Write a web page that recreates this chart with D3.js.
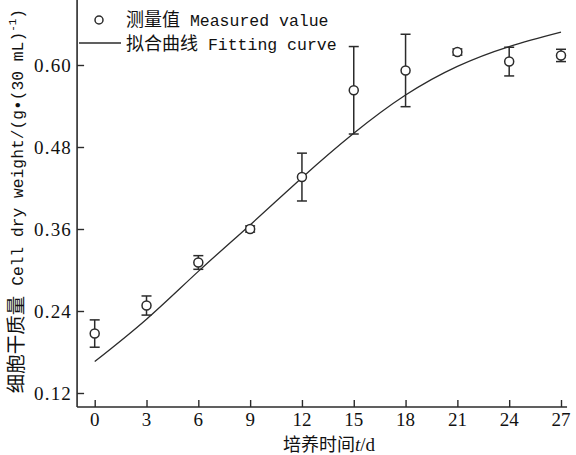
<!DOCTYPE html>
<html>
<head>
<meta charset="utf-8">
<script src="https://cdn.jsdelivr.net/npm/d3@7"></script>
<style>
  html, body { margin: 0; padding: 0; background: #fff; }
  svg { display: block; }
  .cjk { font-family: "Noto Sans CJK SC", sans-serif; }
  .lat { font-family: "Liberation Mono", monospace; }
  .num { font-family: "Liberation Serif", serif; }
</style>
</head>
<body>
<svg id="chart" width="576" height="455"></svg>
<script>
// Culture time (d)
const days = [0, 3, 6, 9, 12, 15, 18, 21, 24, 27];
// Measured cell dry weight, g per 30 mL, and its error
const measured = [0.207, 0.248, 0.311, 0.360, 0.436, 0.563, 0.592, 0.619, 0.605, 0.614];
const errors   = [0.020, 0.014, 0.010, 0.0045, 0.035, 0.064, 0.053, 0.0045, 0.021, 0.009];
// Fitted growth curve at the same days
const fitted   = [0.166, 0.228, 0.298, 0.366, 0.435, 0.500, 0.556, 0.598, 0.627, 0.648];
const xTicks = [0, 3, 6, 9, 12, 15, 18, 21, 24, 27];
const yTicks = [0.12, 0.24, 0.36, 0.48, 0.60];

const ink = "#2b2b2b";
const svg = d3.select("#chart");

const x = d3.scaleLinear().domain([0, 27]).range([94.7, 561]);
const y = d3.scaleLinear().domain([0.12, 0.60]).range([393, 65]);

const axisLeftX = x(-1.02);
const axisBottomY = y(0.0995);

// Axis lines
svg.append("line")
  .attr("x1", axisLeftX).attr("x2", axisLeftX)
  .attr("y1", axisBottomY).attr("y2", 0)
  .attr("stroke", ink).attr("stroke-width", 1.6);
svg.append("line")
  .attr("x1", axisLeftX).attr("x2", x(27.35))
  .attr("y1", axisBottomY).attr("y2", axisBottomY)
  .attr("stroke", ink).attr("stroke-width", 1.6);

// Y axis: inward ticks, labels to the left
const yAxis = d3.axisRight(y).tickValues(yTicks).tickSize(7).tickFormat("");
const gy = svg.append("g").attr("transform", `translate(${axisLeftX},0)`).call(yAxis);
gy.select(".domain").remove();
gy.selectAll(".tick line").attr("stroke", ink).attr("stroke-width", 1.4);
svg.append("g").selectAll("text").data(yTicks).join("text")
  .attr("class", "num")
  .attr("x", axisLeftX - 5)
  .attr("y", d => y(d))
  .attr("dy", "0.35em")
  .attr("text-anchor", "end")
  .attr("font-size", 19)
  .attr("letter-spacing", 1.2)
  .attr("fill", "#111")
  .text(d3.format(".2f"));

// X axis: inward ticks, labels below
const xAxis = d3.axisTop(x).tickValues(xTicks).tickSize(7).tickFormat("");
const gx = svg.append("g").attr("transform", `translate(0,${axisBottomY})`).call(xAxis);
gx.select(".domain").remove();
gx.selectAll(".tick line").attr("stroke", ink).attr("stroke-width", 1.4);
svg.append("g").selectAll("text").data(xTicks).join("text")
  .attr("class", "num")
  .attr("x", d => x(d))
  .attr("y", axisBottomY + 12.5)
  .attr("dy", "0.35em")
  .attr("text-anchor", "middle")
  .attr("font-size", 19)
  .attr("fill", "#111")
  .text(d => d);

// X axis title
const xt = svg.append("text")
  .attr("x", 329).attr("y", 451)
  .attr("text-anchor", "middle").attr("fill", "#111");
xt.append("tspan").attr("class", "cjk").attr("font-size", 18).text("培养时间");
xt.append("tspan").attr("class", "num").attr("font-size", 19).attr("font-style", "italic").text("t");
xt.append("tspan").attr("class", "num").attr("font-size", 19).text("/d");

// Y axis title
const yt = svg.append("text")
  .attr("transform", "translate(23,201) rotate(-90)")
  .attr("text-anchor", "middle").attr("fill", "#111");
yt.append("tspan").attr("class", "cjk").attr("font-size", 19.5).text("细胞干质量");
yt.append("tspan").attr("class", "lat").attr("font-size", 16.3).text(" Cell dry weight/(g•(30 mL)");
yt.append("tspan").attr("class", "lat").attr("font-size", 11).attr("dy", -7).text("-1");
yt.append("tspan").attr("class", "lat").attr("font-size", 16.3).attr("dy", 7).text(")");

// Fitted curve
const line = d3.line()
  .x((d, i) => x(days[i]))
  .y(d => y(d))
  .curve(d3.curveNatural);
svg.append("path")
  .datum(fitted)
  .attr("d", line)
  .attr("fill", "none")
  .attr("stroke", ink)
  .attr("stroke-width", 1.3);

// Measured values with error bars
const pts = days.map((d, i) => ({ t: d, v: measured[i], e: errors[i] }));
const g = svg.append("g").attr("stroke", ink).attr("stroke-width", 1.5);
const capW = 5;
g.selectAll("line.bar").data(pts).join("line").attr("class", "bar")
  .attr("x1", d => x(d.t)).attr("x2", d => x(d.t))
  .attr("y1", d => y(d.v - d.e)).attr("y2", d => y(d.v + d.e));
g.selectAll("line.capT").data(pts).join("line").attr("class", "capT")
  .attr("x1", d => x(d.t) - capW).attr("x2", d => x(d.t) + capW)
  .attr("y1", d => y(d.v + d.e)).attr("y2", d => y(d.v + d.e));
g.selectAll("line.capB").data(pts).join("line").attr("class", "capB")
  .attr("x1", d => x(d.t) - capW).attr("x2", d => x(d.t) + capW)
  .attr("y1", d => y(d.v - d.e)).attr("y2", d => y(d.v - d.e));
g.selectAll("circle").data(pts).join("circle")
  .attr("cx", d => x(d.t)).attr("cy", d => y(d.v))
  .attr("r", 4.5).attr("fill", "#fff");

// Legend
svg.append("circle").attr("cx", 99).attr("cy", 20).attr("r", 4)
  .attr("fill", "#fff").attr("stroke", ink).attr("stroke-width", 1.5);
const l1 = svg.append("text").attr("x", 126).attr("y", 26).attr("fill", "#111");
l1.append("tspan").attr("class", "cjk").attr("font-size", 18).text("测量值");
l1.append("tspan").attr("class", "lat").attr("font-size", 16.5).text(" Measured value");

svg.append("line").attr("x1", 79).attr("x2", 121).attr("y1", 43).attr("y2", 43)
  .attr("stroke", ink).attr("stroke-width", 1.4);
const l2 = svg.append("text").attr("x", 126).attr("y", 50).attr("fill", "#111");
l2.append("tspan").attr("class", "cjk").attr("font-size", 18).text("拟合曲线");
l2.append("tspan").attr("class", "lat").attr("font-size", 16.5).text(" Fitting curve");
</script>
</body>
</html>
